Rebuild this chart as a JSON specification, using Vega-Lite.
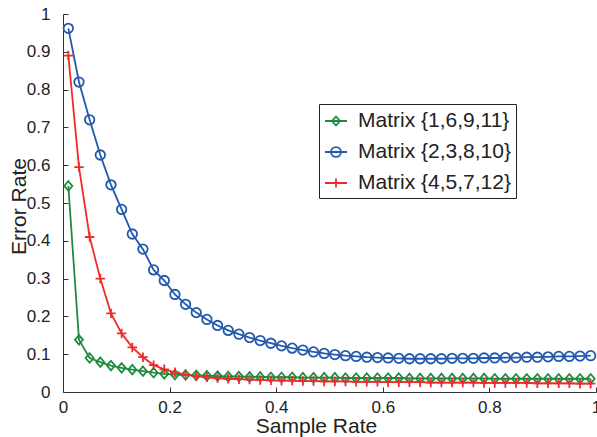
{
  "$schema": "https://vega.github.io/schema/vega-lite/v6.json",
  "width": 533,
  "height": 378,
  "autosize": {"type": "none"},
  "padding": {"left": 63, "top": 14, "right": 1, "bottom": 45},
  "background": "white",
  "config": {
    "view": {"stroke": null},
    "axis": {
      "grid": false,
      "domainColor": "#333333",
      "domainWidth": 1,
      "tickColor": "#333333",
      "tickSize": -5,
      "labelFont": "Liberation Sans",
      "labelFontSize": 17,
      "labelColor": "#222222",
      "titleFont": "Liberation Sans",
      "titleFontSize": 21,
      "titleFontWeight": "normal",
      "titleColor": "#222222",
      "labelOverlap": false,
      "labelFlush": false
    }
  },
  "data": {
    "values": [
      {"x":0.01,"s":"Matrix {1,6,9,11}","y":0.545},{"x":0.03,"s":"Matrix {1,6,9,11}","y":0.138},{"x":0.05,"s":"Matrix {1,6,9,11}","y":0.090},{"x":0.07,"s":"Matrix {1,6,9,11}","y":0.079},{"x":0.09,"s":"Matrix {1,6,9,11}","y":0.070},
      {"x":0.11,"s":"Matrix {1,6,9,11}","y":0.064},{"x":0.13,"s":"Matrix {1,6,9,11}","y":0.059},{"x":0.15,"s":"Matrix {1,6,9,11}","y":0.055},{"x":0.17,"s":"Matrix {1,6,9,11}","y":0.051},{"x":0.19,"s":"Matrix {1,6,9,11}","y":0.048},
      {"x":0.21,"s":"Matrix {1,6,9,11}","y":0.046},{"x":0.23,"s":"Matrix {1,6,9,11}","y":0.045},{"x":0.25,"s":"Matrix {1,6,9,11}","y":0.044},{"x":0.27,"s":"Matrix {1,6,9,11}","y":0.043},{"x":0.29,"s":"Matrix {1,6,9,11}","y":0.042},
      {"x":0.31,"s":"Matrix {1,6,9,11}","y":0.041},{"x":0.33,"s":"Matrix {1,6,9,11}","y":0.041},{"x":0.35,"s":"Matrix {1,6,9,11}","y":0.040},{"x":0.37,"s":"Matrix {1,6,9,11}","y":0.040},{"x":0.39,"s":"Matrix {1,6,9,11}","y":0.039},
      {"x":0.41,"s":"Matrix {1,6,9,11}","y":0.039},{"x":0.43,"s":"Matrix {1,6,9,11}","y":0.039},{"x":0.45,"s":"Matrix {1,6,9,11}","y":0.038},{"x":0.47,"s":"Matrix {1,6,9,11}","y":0.038},{"x":0.49,"s":"Matrix {1,6,9,11}","y":0.038},
      {"x":0.51,"s":"Matrix {1,6,9,11}","y":0.038},{"x":0.53,"s":"Matrix {1,6,9,11}","y":0.037},{"x":0.55,"s":"Matrix {1,6,9,11}","y":0.037},{"x":0.57,"s":"Matrix {1,6,9,11}","y":0.037},{"x":0.59,"s":"Matrix {1,6,9,11}","y":0.037},
      {"x":0.61,"s":"Matrix {1,6,9,11}","y":0.037},{"x":0.63,"s":"Matrix {1,6,9,11}","y":0.037},{"x":0.65,"s":"Matrix {1,6,9,11}","y":0.036},{"x":0.67,"s":"Matrix {1,6,9,11}","y":0.036},{"x":0.69,"s":"Matrix {1,6,9,11}","y":0.036},
      {"x":0.71,"s":"Matrix {1,6,9,11}","y":0.036},{"x":0.73,"s":"Matrix {1,6,9,11}","y":0.036},{"x":0.75,"s":"Matrix {1,6,9,11}","y":0.036},{"x":0.77,"s":"Matrix {1,6,9,11}","y":0.036},{"x":0.79,"s":"Matrix {1,6,9,11}","y":0.036},
      {"x":0.81,"s":"Matrix {1,6,9,11}","y":0.035},{"x":0.83,"s":"Matrix {1,6,9,11}","y":0.035},{"x":0.85,"s":"Matrix {1,6,9,11}","y":0.035},{"x":0.87,"s":"Matrix {1,6,9,11}","y":0.035},{"x":0.89,"s":"Matrix {1,6,9,11}","y":0.035},
      {"x":0.91,"s":"Matrix {1,6,9,11}","y":0.035},{"x":0.93,"s":"Matrix {1,6,9,11}","y":0.035},{"x":0.95,"s":"Matrix {1,6,9,11}","y":0.035},{"x":0.97,"s":"Matrix {1,6,9,11}","y":0.035},{"x":0.99,"s":"Matrix {1,6,9,11}","y":0.035},

      {"x":0.01,"s":"Matrix {2,3,8,10}","y":0.962},{"x":0.03,"s":"Matrix {2,3,8,10}","y":0.820},{"x":0.05,"s":"Matrix {2,3,8,10}","y":0.720},{"x":0.07,"s":"Matrix {2,3,8,10}","y":0.627},{"x":0.09,"s":"Matrix {2,3,8,10}","y":0.548},
      {"x":0.11,"s":"Matrix {2,3,8,10}","y":0.483},{"x":0.13,"s":"Matrix {2,3,8,10}","y":0.418},{"x":0.15,"s":"Matrix {2,3,8,10}","y":0.378},{"x":0.17,"s":"Matrix {2,3,8,10}","y":0.323},{"x":0.19,"s":"Matrix {2,3,8,10}","y":0.295},
      {"x":0.21,"s":"Matrix {2,3,8,10}","y":0.258},{"x":0.23,"s":"Matrix {2,3,8,10}","y":0.232},{"x":0.25,"s":"Matrix {2,3,8,10}","y":0.210},{"x":0.27,"s":"Matrix {2,3,8,10}","y":0.192},{"x":0.29,"s":"Matrix {2,3,8,10}","y":0.176},
      {"x":0.31,"s":"Matrix {2,3,8,10}","y":0.163},{"x":0.33,"s":"Matrix {2,3,8,10}","y":0.153},{"x":0.35,"s":"Matrix {2,3,8,10}","y":0.144},{"x":0.37,"s":"Matrix {2,3,8,10}","y":0.136},{"x":0.39,"s":"Matrix {2,3,8,10}","y":0.129},
      {"x":0.41,"s":"Matrix {2,3,8,10}","y":0.122},{"x":0.43,"s":"Matrix {2,3,8,10}","y":0.116},{"x":0.45,"s":"Matrix {2,3,8,10}","y":0.111},{"x":0.47,"s":"Matrix {2,3,8,10}","y":0.106},{"x":0.49,"s":"Matrix {2,3,8,10}","y":0.102},
      {"x":0.51,"s":"Matrix {2,3,8,10}","y":0.099},{"x":0.53,"s":"Matrix {2,3,8,10}","y":0.096},{"x":0.55,"s":"Matrix {2,3,8,10}","y":0.094},{"x":0.57,"s":"Matrix {2,3,8,10}","y":0.092},{"x":0.59,"s":"Matrix {2,3,8,10}","y":0.091},
      {"x":0.61,"s":"Matrix {2,3,8,10}","y":0.090},{"x":0.63,"s":"Matrix {2,3,8,10}","y":0.089},{"x":0.65,"s":"Matrix {2,3,8,10}","y":0.088},{"x":0.67,"s":"Matrix {2,3,8,10}","y":0.088},{"x":0.69,"s":"Matrix {2,3,8,10}","y":0.088},
      {"x":0.71,"s":"Matrix {2,3,8,10}","y":0.088},{"x":0.73,"s":"Matrix {2,3,8,10}","y":0.089},{"x":0.75,"s":"Matrix {2,3,8,10}","y":0.089},{"x":0.77,"s":"Matrix {2,3,8,10}","y":0.089},{"x":0.79,"s":"Matrix {2,3,8,10}","y":0.090},
      {"x":0.81,"s":"Matrix {2,3,8,10}","y":0.090},{"x":0.83,"s":"Matrix {2,3,8,10}","y":0.091},{"x":0.85,"s":"Matrix {2,3,8,10}","y":0.091},{"x":0.87,"s":"Matrix {2,3,8,10}","y":0.092},{"x":0.89,"s":"Matrix {2,3,8,10}","y":0.092},
      {"x":0.91,"s":"Matrix {2,3,8,10}","y":0.093},{"x":0.93,"s":"Matrix {2,3,8,10}","y":0.094},{"x":0.95,"s":"Matrix {2,3,8,10}","y":0.094},{"x":0.97,"s":"Matrix {2,3,8,10}","y":0.095},{"x":0.99,"s":"Matrix {2,3,8,10}","y":0.096},

      {"x":0.01,"s":"Matrix {4,5,7,12}","y":0.890},{"x":0.03,"s":"Matrix {4,5,7,12}","y":0.595},{"x":0.05,"s":"Matrix {4,5,7,12}","y":0.410},{"x":0.07,"s":"Matrix {4,5,7,12}","y":0.300},{"x":0.09,"s":"Matrix {4,5,7,12}","y":0.208},
      {"x":0.11,"s":"Matrix {4,5,7,12}","y":0.155},{"x":0.13,"s":"Matrix {4,5,7,12}","y":0.118},{"x":0.15,"s":"Matrix {4,5,7,12}","y":0.092},{"x":0.17,"s":"Matrix {4,5,7,12}","y":0.071},{"x":0.19,"s":"Matrix {4,5,7,12}","y":0.060},
      {"x":0.21,"s":"Matrix {4,5,7,12}","y":0.052},{"x":0.23,"s":"Matrix {4,5,7,12}","y":0.046},{"x":0.25,"s":"Matrix {4,5,7,12}","y":0.042},{"x":0.27,"s":"Matrix {4,5,7,12}","y":0.039},{"x":0.29,"s":"Matrix {4,5,7,12}","y":0.037},
      {"x":0.31,"s":"Matrix {4,5,7,12}","y":0.035},{"x":0.33,"s":"Matrix {4,5,7,12}","y":0.034},{"x":0.35,"s":"Matrix {4,5,7,12}","y":0.033},{"x":0.37,"s":"Matrix {4,5,7,12}","y":0.032},{"x":0.39,"s":"Matrix {4,5,7,12}","y":0.031},
      {"x":0.41,"s":"Matrix {4,5,7,12}","y":0.030},{"x":0.43,"s":"Matrix {4,5,7,12}","y":0.030},{"x":0.45,"s":"Matrix {4,5,7,12}","y":0.029},{"x":0.47,"s":"Matrix {4,5,7,12}","y":0.029},{"x":0.49,"s":"Matrix {4,5,7,12}","y":0.028},
      {"x":0.51,"s":"Matrix {4,5,7,12}","y":0.028},{"x":0.53,"s":"Matrix {4,5,7,12}","y":0.028},{"x":0.55,"s":"Matrix {4,5,7,12}","y":0.027},{"x":0.57,"s":"Matrix {4,5,7,12}","y":0.027},{"x":0.59,"s":"Matrix {4,5,7,12}","y":0.027},
      {"x":0.61,"s":"Matrix {4,5,7,12}","y":0.026},{"x":0.63,"s":"Matrix {4,5,7,12}","y":0.026},{"x":0.65,"s":"Matrix {4,5,7,12}","y":0.026},{"x":0.67,"s":"Matrix {4,5,7,12}","y":0.026},{"x":0.69,"s":"Matrix {4,5,7,12}","y":0.025},
      {"x":0.71,"s":"Matrix {4,5,7,12}","y":0.025},{"x":0.73,"s":"Matrix {4,5,7,12}","y":0.025},{"x":0.75,"s":"Matrix {4,5,7,12}","y":0.025},{"x":0.77,"s":"Matrix {4,5,7,12}","y":0.025},{"x":0.79,"s":"Matrix {4,5,7,12}","y":0.024},
      {"x":0.81,"s":"Matrix {4,5,7,12}","y":0.024},{"x":0.83,"s":"Matrix {4,5,7,12}","y":0.024},{"x":0.85,"s":"Matrix {4,5,7,12}","y":0.024},{"x":0.87,"s":"Matrix {4,5,7,12}","y":0.024},{"x":0.89,"s":"Matrix {4,5,7,12}","y":0.023},
      {"x":0.91,"s":"Matrix {4,5,7,12}","y":0.023},{"x":0.93,"s":"Matrix {4,5,7,12}","y":0.023},{"x":0.95,"s":"Matrix {4,5,7,12}","y":0.023},{"x":0.97,"s":"Matrix {4,5,7,12}","y":0.022},{"x":0.99,"s":"Matrix {4,5,7,12}","y":0.022}
    ]
  },
  "encoding": {
    "x": {
      "field": "x", "type": "quantitative",
      "scale": {"domain": [0, 1], "nice": false, "zero": false},
      "axis": {"title": "Sample Rate", "values": [0, 0.2, 0.4, 0.6, 0.8, 1], "format": "~g", "labelPadding": 12, "titleX": 253, "titleY": 40, "titleBaseline": "alphabetic", "titleAnchor": null, "titleAlign": "center"}
    },
    "y": {
      "field": "y", "type": "quantitative",
      "scale": {"domain": [0, 1], "nice": false},
      "axis": {"title": "Error Rate", "values": [0, 0.1, 0.2, 0.3, 0.4, 0.5, 0.6, 0.7, 0.8, 0.9, 1], "format": "~g", "labelPadding": 18, "titleX": -38, "titleY": 192, "titleBaseline": "alphabetic", "titleAngle": -90, "titleAlign": "center"}
    }
  },
  "layer": [
    {
      "mark": {"type": "line", "strokeWidth": 1.8, "clip": false},
      "encoding": {
        "color": {
          "field": "s", "type": "nominal",
          "scale": {"domain": ["Matrix {1,6,9,11}", "Matrix {2,3,8,10}", "Matrix {4,5,7,12}"], "range": ["#1e8b3e", "#2259ad", "#ee2a2a"]},
          "legend": {
            "title": null,
            "orient": "none",
            "legendX": 256,
            "legendY": 90,
            "padding": 5,
            "strokeColor": "#222222",
            "fillColor": "white",
            "symbolSize": 484,
            "symbolStrokeWidth": 1.8,
            "symbolFillColor": "transparent",
            "labelFont": "Liberation Sans",
            "labelFontSize": 21,
            "labelColor": "#222222",
            "labelOffset": 10,
            "rowPadding": 9,
            "labelLimit": 300,
            "encode": {
              "symbols": {
                "update": {
                  "shape": {"signal": "datum.value === 'Matrix {1,6,9,11}' ? 'M-1,0L1,0M0,-0.41L0.36,0L0,0.41L-0.36,0Z' : datum.value === 'Matrix {2,3,8,10}' ? 'M-1,0L1,0M0.45,0A0.45,0.45 0 1,1 -0.45,0A0.45,0.45 0 1,1 0.45,0' : 'M-1,0L1,0M0,-0.4L0,0.4'"},
                  "fill": {"value": "transparent"},
                  "strokeWidth": {"value": 1.8}
                }
              }
            }
          }
        }
      }
    },
    {
      "transform": [{"filter": "datum.s === 'Matrix {1,6,9,11}'"}],
      "mark": {"type": "point", "filled": false, "strokeWidth": 1.8, "size": 90, "opacity": 1, "color": "#1e8b3e", "shape": "M0,-1L0.85,0L0,1L-0.85,0Z"}
    },
    {
      "transform": [{"filter": "datum.s === 'Matrix {2,3,8,10}'"}],
      "mark": {"type": "point", "filled": false, "strokeWidth": 1.8, "size": 90, "opacity": 1, "color": "#2259ad", "shape": "M1,0A1,1 0 1,1 -1,0A1,1 0 1,1 1,0Z"}
    },
    {
      "transform": [{"filter": "datum.s === 'Matrix {4,5,7,12}'"}],
      "mark": {"type": "point", "filled": false, "strokeWidth": 1.8, "size": 90, "opacity": 1, "color": "#ee2a2a", "shape": "M-1,0L1,0M0,-1L0,1"}
    }
  ]
}
